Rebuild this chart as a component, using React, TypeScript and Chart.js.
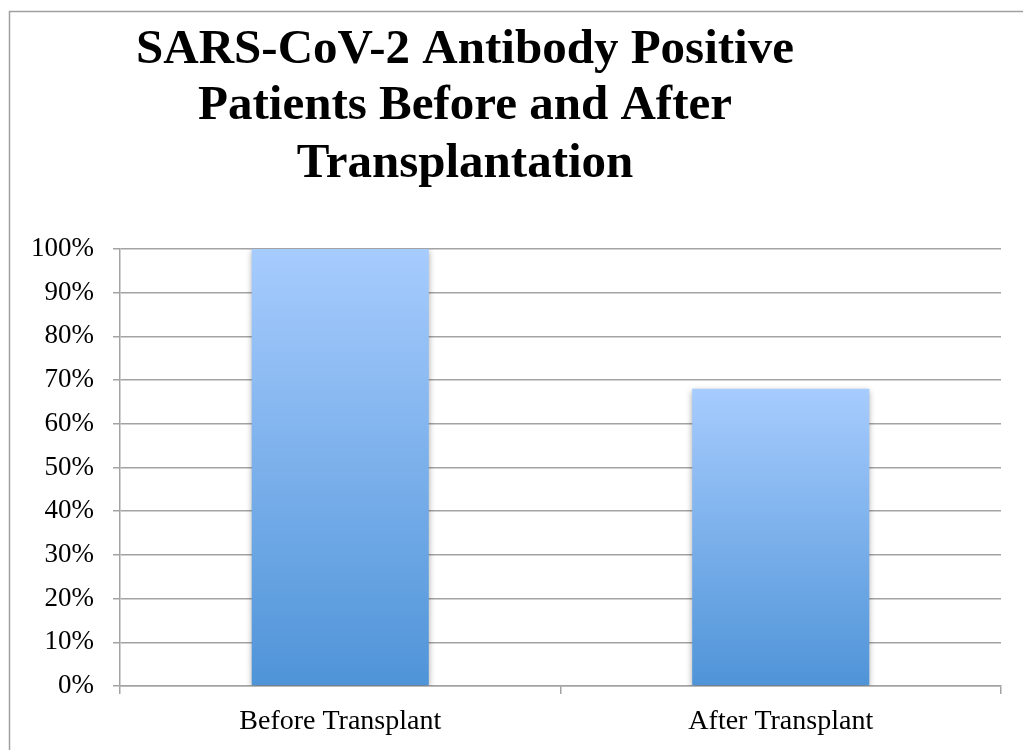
import React, { useEffect, useRef } from "react";
import { Chart, registerables } from "chart.js";

Chart.register(...registerables);

const categories = ["Before Transplant", "After Transplant"];
const positivePercent = [100, 68];
const titleLines = [
  "SARS-CoV-2 Antibody Positive",
  "Patients Before and After",
  "Transplantation",
];

const TOP_COLOR = "rgb(167,204,254)";
const BOTTOM_COLOR = "rgb(79,148,216)";
const GRID = "#a3a3a3";

const framePlugin = {
  id: "frame",
  beforeDraw(chart: any) {
    const c = chart.ctx;
    c.save();
    c.fillStyle = "#ffffff";
    c.fillRect(0, 0, chart.width, chart.height);
    c.strokeStyle = "#a0a0a0";
    c.lineWidth = 1.5;
    c.strokeRect(9.5, 11.5, 1200, 1000);
    c.restore();
  },
  afterDraw(chart: any) {
    const c = chart.ctx;
    c.save();
    c.fillStyle = "#000";
    c.font = "bold 49px 'Liberation Serif'";
    c.textAlign = "center";
    c.textBaseline = "alphabetic";
    const baselines = [63, 119, 177];
    titleLines.forEach((t, i) => c.fillText(t, 465, baselines[i]));
    c.restore();
  },
};

const shadowPlugin = {
  id: "barShadow",
  beforeDatasetsDraw(chart: any) {
    const c = chart.ctx;
    c.save();
    c.shadowColor = "rgba(0,0,0,0.35)";
    c.shadowBlur = 6;
    c.shadowOffsetX = 0;
    c.shadowOffsetY = 2;
  },
  afterDatasetsDraw(chart: any) {
    chart.ctx.restore();
  },
};

export default function App() {
  const ref = useRef<HTMLCanvasElement | null>(null);

  useEffect(() => {
    if (!ref.current) return;
    const chart = new Chart(ref.current, {
      type: "bar",
      data: {
        labels: categories,
        datasets: [
          {
            data: positivePercent,
            barPercentage: 0.402,
            categoryPercentage: 1.0,
            borderWidth: 0,
            backgroundColor: (ctx: any) => {
              const chart = ctx.chart;
              const y = chart.scales && chart.scales.y;
              if (!y || ctx.type !== "data") return TOP_COLOR;
              const top = y.getPixelForValue(ctx.raw);
              const bot = y.getPixelForValue(0);
              if (!isFinite(top) || !isFinite(bot) || top === bot) return TOP_COLOR;
              const g = chart.ctx.createLinearGradient(0, top, 0, bot);
              g.addColorStop(0, TOP_COLOR);
              g.addColorStop(1, BOTTOM_COLOR);
              return g;
            },
          },
        ],
      },
      options: {
        animation: false,
        responsive: false,
        maintainAspectRatio: false,
        layout: { padding: { left: 0, top: 249, right: 22, bottom: 0 } },
        plugins: {
          legend: { display: false },
          title: { display: false },
          tooltip: { enabled: false },
        },
        scales: {
          x: {
            afterFit: (s: any) => {
              s.height = 64;
            },
            grid: {
              drawOnChartArea: false,
              drawTicks: true,
              tickLength: 8,
              color: GRID,
              lineWidth: 1.5,
              offset: true,
            },
            border: { display: true, color: GRID, width: 1.5 },
            ticks: {
              color: "#000",
              padding: 11,
              font: { family: "'Liberation Serif'", size: 28 },
            },
          },
          y: {
            min: 0,
            max: 100,
            afterFit: (s: any) => {
              s.width = 120;
            },
            grid: {
              color: GRID,
              lineWidth: 1.5,
              tickLength: 7,
              drawTicks: true,
            },
            border: { display: true, color: GRID, width: 1.5 },
            ticks: {
              stepSize: 10,
              color: "#000",
              padding: 19,
              font: { family: "'Liberation Serif'", size: 27 },
              callback: (v: any) => v + "%",
            },
          },
        },
      },
      plugins: [framePlugin, shadowPlugin],
    } as any);
    return () => chart.destroy();
  }, []);

  return (
    <div style={{ position: "absolute", left: 0, top: 0, width: 1023, height: 750 }}>
      <canvas ref={ref} width={1023} height={750} style={{ display: "block" }} />
    </div>
  );
}
